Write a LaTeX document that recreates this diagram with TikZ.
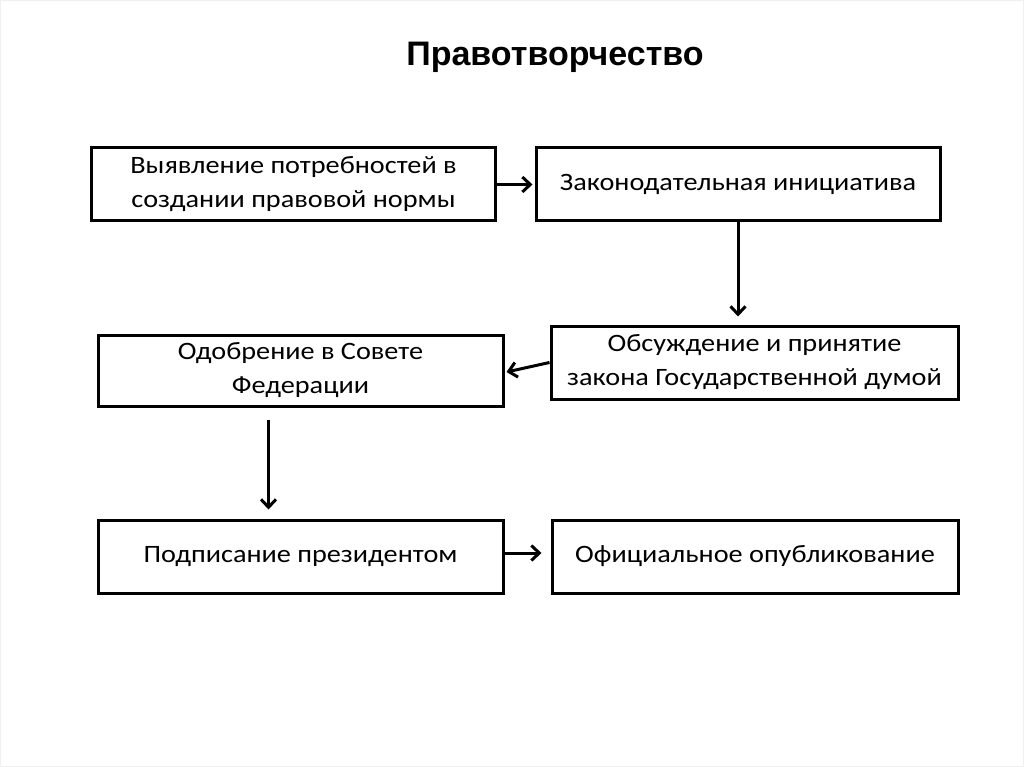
\documentclass[tikz,border=0pt]{standalone}
\usepackage{fontspec}
\setmainfont{Carlito}
\newfontfamily\boxfont[FakeStretch=1.13]{Carlito}
\newfontfamily\titlefont{Liberation Sans}
\usetikzlibrary{arrows.meta}

\begin{document}
\begin{tikzpicture}
[x=1pt, y=-1pt,
block/.style = {rectangle, draw=black, line width=3pt, fill=white, minimum width=404pt, minimum height=73pt, align=center, inner sep=2pt, font=\boxfont\fontsize{25}{34}\selectfont},
title/.style = {font=\titlefont\bfseries\fontsize{34}{40}\selectfont},
line/.style  = {draw, line width=3pt, -{Straight Barb[length=8pt,width=15pt]}}
]

% frame
\path[use as bounding box, draw=black!6, line width=1pt] (0.5,0.5) rectangle (1023.5,766.5);

\node [title] (title) at (555,57) {Правотворчество};

% row 1
\node [block] (needs) at (293.5,184.5) {Выявление потребностей в\\создании правовой нормы};
\node [block] (initiative) at (738,184.5) {Законодательная инициатива};
% row 2
\node [block, minimum width=405pt, minimum height=71pt] (council) at (300.5,370.5) {Одобрение в Совете\\Федерации};
\node [block, minimum width=407pt] (duma) at (754.5,362.5) {Обсуждение и принятие\\закона Государственной думой};
% row 3
\node [block, minimum width=405pt] (president) at (300.5,556.5) {Подписание президентом};
\node [block, minimum width=406pt] (publish) at (755,556.5) {Официальное опубликование};

\begin{scope}[every path/.style=line]
\path (needs) -- ([xshift=-2pt]initiative.west);
\path (initiative.south) -- ([yshift=8pt]initiative.south |- duma.north);
\path (duma.west) -- ([xshift=2pt,yshift=-1.5pt]council.east);
\path ([xshift=-32pt,yshift=-12pt]council.south) -- ([xshift=-32pt,yshift=9pt]president.north);
\path ([yshift=3.5pt]president.east) -- ([xshift=-9pt,yshift=3.5pt]publish.west);
\end{scope}

\end{tikzpicture}
\end{document}
